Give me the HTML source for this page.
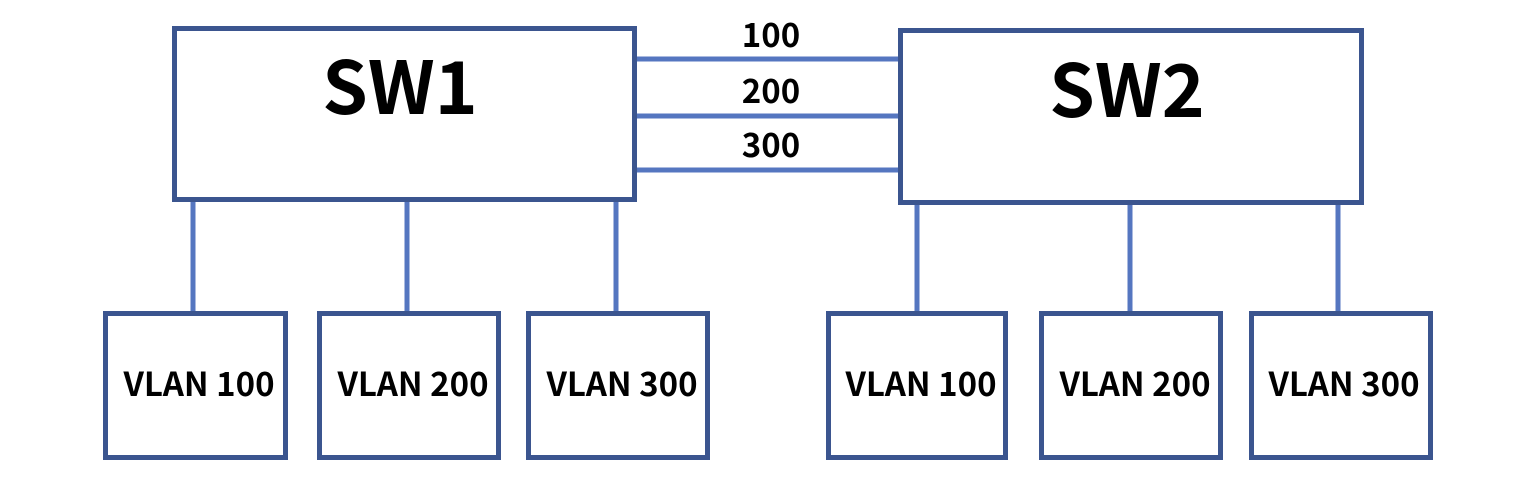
<!DOCTYPE html>
<html><head><meta charset="utf-8"><style>
html,body{margin:0;padding:0;background:#fff;}
svg{display:block;}
text{font-family:"Noto Sans CJK KR","Liberation Sans",sans-serif;font-weight:bold;fill:#000;}
</style></head><body>
<svg width="1524" height="498" viewBox="0 0 1524 498" xmlns="http://www.w3.org/2000/svg">
<g stroke="#5576c0" stroke-width="5" fill="none">
<line x1="637" y1="59" x2="898" y2="59"/>
<line x1="637" y1="116" x2="899" y2="116"/>
<line x1="637" y1="170" x2="900" y2="170"/>
<line x1="193" y1="202" x2="193" y2="311"/>
<line x1="407" y1="202" x2="407" y2="311"/>
<line x1="616" y1="202" x2="616" y2="311"/>
<line x1="917" y1="204" x2="917" y2="311"/>
<line x1="1130" y1="204" x2="1130" y2="311"/>
<line x1="1338" y1="204" x2="1338" y2="311"/>
</g>
<g stroke="#3b558f" stroke-width="5" fill="#fff">
<rect x="174.5" y="28.5" width="460" height="171"/>
<rect x="900.5" y="30.5" width="461" height="172"/>
<rect x="105.5" y="313.5" width="180" height="144"/>
<rect x="319.5" y="313.5" width="179" height="144"/>
<rect x="528.5" y="313.5" width="179" height="144"/>
<rect x="828.5" y="313.5" width="177" height="144"/>
<rect x="1041.5" y="313.5" width="179" height="144"/>
<rect x="1251.5" y="313.5" width="179" height="144"/>
</g>
<g text-anchor="middle">
<text x="400" y="114" font-size="73">SW1</text>
<text x="1127" y="117" font-size="73">SW2</text>
<text x="771" y="47" font-size="33">100</text>
<text x="771" y="103" font-size="33">200</text>
<text x="771" y="157" font-size="33">300</text>
<g font-size="33">
<text x="199" y="396">VLAN 100</text>
<text x="413" y="396">VLAN 200</text>
<text x="622" y="396">VLAN 300</text>
<text x="921" y="396">VLAN 100</text>
<text x="1135" y="396">VLAN 200</text>
<text x="1344" y="396">VLAN 300</text>
</g>
</g>
</svg>
</body></html>
